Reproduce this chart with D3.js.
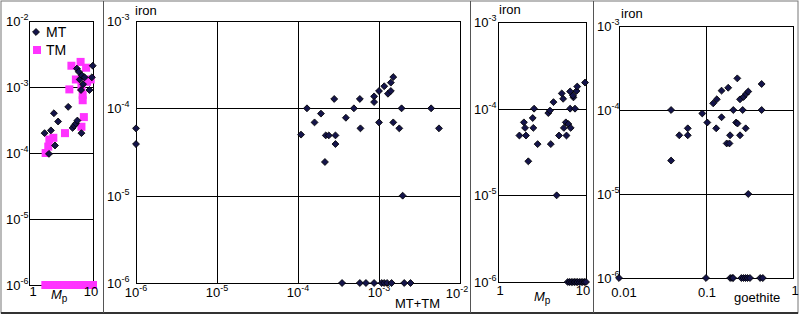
<!DOCTYPE html>
<html>
<head>
<meta charset="utf-8">
<script src="https://cdn.jsdelivr.net/npm/d3@7"></script>
<style>
  body { margin: 0; background: #fff; }
  text { font-family: "Liberation Sans", Arial, sans-serif; }
</style>
</head>
<body>
<div id="chart"></div>
<script>
// ---- data ----
// panel 1: iron vs Mp, two series
var p1MT = [[1.75, 2.0e-4], [2.05, 0.97e-4], [2.2, 2.2e-4], [2.55, 1.3e-4], [2.45, 4.0e-4],
    [2.85, 3.0e-4], [4.1, 5.0e-4], [4.8, 2.4e-4], [5.1, 2.6e-4], [5.4, 2.8e-4], [5.7, 3.1e-4],
    [6.6, 2.0e-4], [5.6, 1.9e-3], [6.0, 1.7e-3], [6.2, 1.3e-3], [6.7, 1.5e-3], [6.5, 0.9e-3],
    [7.4, 1.4e-3], [8.8, 0.9e-3], [9.9, 2.1e-3], [9.6, 1.4e-3], [7.0, 1.1e-3]];
var p1TM = [[1.82, 1.0e-4], [2.0, 1.25e-4], [2.08, 1.6e-4], [2.4, 1.7e-4], [3.65, 2.0e-4],
    [4.27, 0.92e-3], [4.6, 2.1e-3], [5.4, 1.3e-3], [6.4, 2.4e-3], [6.6, 1.0e-3], [6.9, 6.3e-4],
    [6.9, 7.6e-4], [7.2, 3.5e-4], [6.6, 2.5e-4], [7.8, 1.96e-3], [8.1, 1.2e-3], [9.2, 1.3e-3],
    [1.8, 1e-6], [2.0, 1e-6], [2.2, 1e-6], [2.4, 1e-6], [2.6, 1e-6], [2.8, 1e-6], [3.1, 1e-6],
    [3.6, 1e-6], [4.0, 1e-6], [4.5, 1e-6], [5.0, 1e-6], [5.5, 1e-6], [6.0, 1e-6], [6.5, 1e-6],
    [7.0, 1e-6], [7.5, 1e-6], [8.0, 1e-6], [8.5, 1e-6], [9.0, 1e-6], [9.5, 1e-6], [10, 1e-6]];

// panel 2: iron vs MT+TM
var p2Iron = [[1e-6, 5.9e-5], [1e-6, 3.9e-5], [1.09e-4, 5.0e-5], [1.29e-4, 1e-4], [1.6e-4, 6.9e-5],
    [1.92e-4, 8.7e-5], [2.2e-4, 4.9e-5], [2.4e-4, 4.9e-5], [2.8e-4, 1.28e-4], [2.9e-4, 4.9e-5],
    [2.9e-4, 3.9e-5], [3.9e-4, 7.8e-5], [4.9e-4, 1e-4], [5.8e-4, 1.28e-4], [5.9e-4, 5.9e-5],
    [8.7e-4, 1.37e-4], [8.7e-4, 1.18e-4], [1e-3, 1.58e-4], [1e-3, 6.9e-5], [1.16e-3, 1.79e-4],
    [1.29e-3, 1.47e-4], [1.4e-3, 1.58e-4], [1.4e-3, 1.97e-4], [1.5e-3, 2.28e-4], [1.5e-3, 6.9e-5],
    [1.78e-3, 5.9e-5], [1.9e-3, 1e-4], [4.4e-3, 1e-4], [5.5e-3, 5.9e-5], [2.15e-4, 2.43e-5],
    [1.96e-3, 1e-5],
    [3.5e-4, 1e-6], [5.8e-4, 1e-6], [6.9e-4, 1e-6], [8.7e-4, 1e-6], [1.08e-3, 1e-6],
    [1.16e-3, 1e-6], [1.26e-3, 1e-6], [1.43e-3, 1e-6], [2.05e-3, 1e-6], [2.45e-3, 1e-6]];

// panel 3: iron vs Mp
var p3Iron = [[1.75, 4.9e-5], [1.97, 6.95e-5], [2.03, 6.0e-5], [2.08, 4.9e-5], [2.21, 2.47e-5],
    [2.48, 7.8e-5], [2.57, 1e-4], [2.52, 6.0e-5], [2.82, 3.9e-5], [3.73, 8.9e-5], [3.9, 9.5e-5],
    [3.98, 3.9e-5], [4.27, 1.19e-4], [4.64, 1e-5], [4.93, 4.9e-5], [5.3, 1.5e-4], [5.5, 1.3e-4],
    [5.6, 6.0e-5], [5.9, 6.95e-5], [6.0, 4.9e-5], [6.3, 6.65e-5], [6.6, 1e-4], [6.7, 6.0e-5],
    [6.6, 1.58e-4], [7.2, 1.35e-4], [7.1, 1.42e-4], [7.5, 1e-4], [7.8, 1.6e-4], [7.95, 1.8e-4],
    [9.75, 2.0e-4],
    [6.2, 1e-6], [6.5, 1e-6], [6.8, 1e-6], [7.1, 1e-6], [7.4, 1e-6], [7.7, 1e-6], [8.0, 1e-6],
    [8.4, 1e-6], [8.8, 1e-6], [9.2, 1e-6], [9.6, 1e-6], [10, 1e-6]];

// panel 4: iron vs goethite
var p4Iron = [[0.0397, 1e-4], [0.0397, 2.5e-5], [0.0493, 5.0e-5], [0.0617, 6.05e-5], [0.0617, 5.0e-5],
    [0.0906, 9.1e-5], [0.1035, 7.1e-5], [0.121, 1.2e-4], [0.133, 1.34e-4], [0.131, 6.05e-5],
    [0.151, 1.7e-4], [0.151, 8.2e-5], [0.173, 4.0e-5], [0.186, 4.0e-5], [0.18, 1.84e-4],
    [0.189, 5.0e-5], [0.206, 1e-4], [0.222, 7.1e-5], [0.229, 2.38e-4], [0.23, 6.9e-5],
    [0.246, 5.0e-5], [0.246, 1.34e-4], [0.264, 1e-4], [0.27, 1.43e-4], [0.286, 6.05e-5],
    [0.288, 1.55e-4], [0.306, 1.66e-4], [0.306, 1e-5], [0.436, 2.04e-4], [0.436, 1e-4],
    [0.01, 1e-6], [0.1, 1e-6], [0.19, 1e-6], [0.2, 1e-6], [0.205, 1e-6], [0.255, 1e-6],
    [0.27, 1e-6], [0.285, 1e-6], [0.3, 1e-6], [0.32, 1e-6], [0.42, 1e-6], [0.45, 1e-6]];

var W = 800, H = 316;
var svg = d3.select("#chart").append("svg")
    .attr("width", W)
    .attr("height", H);

//Outer frame and panel separators
svg.append("rect")
    .attr("x", 1).attr("y", 1)
    .attr("width", W - 3).attr("height", 312)
    .attr("fill", "none").attr("stroke", "#777").attr("stroke-width", 1);
svg.append("line")
    .attr("x1", 1).attr("x2", W - 2).attr("y1", 313).attr("y2", 313)
    .attr("stroke", "#333").attr("stroke-width", 2);
[103, 470, 593].forEach(function (x) {
    svg.append("line")
        .attr("x1", x + 0.5).attr("x2", x + 0.5).attr("y1", 1).attr("y2", 313)
        .attr("stroke", "#555");
});

// power-of-ten label: "10" with raised exponent
function powLabel(g, x, y, exp, anchor) {
    var t = g.append("text")
        .attr("x", x).attr("y", y)
        .attr("font-size", 13)
        .attr("text-anchor", anchor || "start");
    t.append("tspan").text("10");
    t.append("tspan").attr("dy", -6).attr("font-size", 9).text("-" + exp);
    return t;
}

function diamond(g, data, x, y) {
    g.selectAll(null)
        .data(data)
        .enter().append("path")
        .attr("d", d3.symbol(d3.symbolSquare, 24)())
        .attr("transform", function (d) {
            return "translate(" + x(d[0]) + "," + y(d[1]) + ") rotate(45)";
        })
        .attr("fill", "#14144a")
        .attr("stroke", "#000")
        .attr("stroke-width", 0.8);
}

function drawPanel(cfg) {
    var g = svg.append("g");
    var x = d3.scaleLog().domain(cfg.xDomain).range(cfg.xRange);
    var y = d3.scaleLog().domain(cfg.yDomain).range(cfg.yRange);

    //Grid
    var yTicks = y.ticks().filter(function (t) {
        return Math.abs(Math.log10(t) - Math.round(Math.log10(t))) < 1e-9;
    });
    g.selectAll(null).data(yTicks).enter().append("line")
        .attr("x1", cfg.xRange[0]).attr("x2", cfg.xRange[1])
        .attr("y1", function (d) { return Math.round(y(d)) + 0.5; })
        .attr("y2", function (d) { return Math.round(y(d)) + 0.5; })
        .attr("stroke", "#000");
    g.selectAll(null).data(cfg.xGrid).enter().append("line")
        .attr("x1", function (d) { return Math.round(x(d)) + 0.5; })
        .attr("x2", function (d) { return Math.round(x(d)) + 0.5; })
        .attr("y1", cfg.yRange[1]).attr("y2", cfg.yRange[0])
        .attr("stroke", "#000");
    g.append("rect")
        .attr("x", cfg.xRange[0] + 0.5).attr("y", cfg.yRange[1] + 0.5)
        .attr("width", cfg.xRange[1] - cfg.xRange[0])
        .attr("height", cfg.yRange[0] - cfg.yRange[1])
        .attr("fill", "none").attr("stroke", "#000");

    //Y tick labels
    yTicks.forEach(function (t) {
        powLabel(g, cfg.labelX, Math.round(y(t)) + 5, -Math.round(Math.log10(t)));
    });

    if (cfg.iron) {
        g.append("text")
            .attr("x", cfg.iron[0]).attr("y", cfg.iron[1])
            .attr("font-size", 13).text("iron");
    }
    return { g: g, x: x, y: y };
}

function mpLabel(g, x, y) {
    var t = g.append("text").attr("x", x).attr("y", y).attr("font-size", 13);
    t.append("tspan").attr("font-style", "italic").text("M");
    t.append("tspan").attr("dy", 3).attr("font-size", 10).text("p");
}

// ---- panel 1 ----
var p1 = drawPanel({
    xDomain: [1, 10], xRange: [29, 93],
    yDomain: [1e-6, 1e-2], yRange: [285, 21],
    xGrid: [], labelX: 6
});
p1.g.selectAll(null).data(p1TM).enter().append("rect")
    .attr("x", function (d) { return p1.x(d[0]) - 4; })
    .attr("y", function (d) { return p1.y(d[1]) - 4; })
    .attr("width", 8).attr("height", 8)
    .attr("fill", "#ff33ff");
diamond(p1.g, p1MT, p1.x, p1.y);
//Legend
diamond(p1.g, [[0, 0]], function () { return 36; }, function () { return 32; });
p1.g.append("text").attr("x", 46).attr("y", 37).attr("font-size", 14).text("MT");
p1.g.append("rect").attr("x", 33).attr("y", 46).attr("width", 8).attr("height", 8).attr("fill", "#ff33ff");
p1.g.append("text").attr("x", 46).attr("y", 55).attr("font-size", 14).text("TM");
p1.g.append("text").attr("x", 33).attr("y", 296).attr("font-size", 13).attr("text-anchor", "middle").text("1");
p1.g.append("text").attr("x", 91).attr("y", 296).attr("font-size", 13).attr("text-anchor", "middle").text("10");
mpLabel(p1.g, 51, 299);

// ---- panel 2 ----
var p2 = drawPanel({
    xDomain: [1e-6, 1e-2], xRange: [136, 460],
    yDomain: [1e-6, 1e-3], yRange: [283, 21],
    xGrid: [1e-5, 1e-4, 1e-3], labelX: 107, iron: [135, 15]
});
diamond(p2.g, p2Iron, p2.x, p2.y);
[1e-6, 1e-5, 1e-4, 1e-3].forEach(function (t) {
    powLabel(p2.g, p2.x(t), 297, -Math.round(Math.log10(t)), "middle");
});
powLabel(p2.g, 457, 298, 2, "middle");
p2.g.append("text").attr("x", 395).attr("y", 308).attr("font-size", 13).text("MT+TM");

// ---- panel 3 ----
var p3 = drawPanel({
    xDomain: [1, 10], xRange: [498, 586],
    yDomain: [1e-6, 1e-3], yRange: [282, 22],
    xGrid: [], labelX: 474, iron: [499, 14]
});
diamond(p3.g, p3Iron, p3.x, p3.y);
p3.g.append("text").attr("x", 500).attr("y", 295).attr("font-size", 13).attr("text-anchor", "middle").text("1");
p3.g.append("text").attr("x", 583).attr("y", 295).attr("font-size", 13).attr("text-anchor", "middle").text("10");
mpLabel(p3.g, 534, 301);

// ---- panel 4 ----
var p4 = drawPanel({
    xDomain: [0.01, 1], xRange: [619, 793],
    yDomain: [1e-6, 1e-3], yRange: [278, 26],
    xGrid: [0.1], labelX: 597, iron: [621, 18]
});
diamond(p4.g, p4Iron, p4.x, p4.y);
p4.g.append("text").attr("x", 624).attr("y", 297).attr("font-size", 13).attr("text-anchor", "middle").text("0.01");
p4.g.append("text").attr("x", 707).attr("y", 297).attr("font-size", 13).attr("text-anchor", "middle").text("0.1");
p4.g.append("text").attr("x", 795).attr("y", 295).attr("font-size", 13).attr("text-anchor", "middle").text("1");
p4.g.append("text").attr("x", 734).attr("y", 302).attr("font-size", 13).text("goethite");
</script>
</body>
</html>
